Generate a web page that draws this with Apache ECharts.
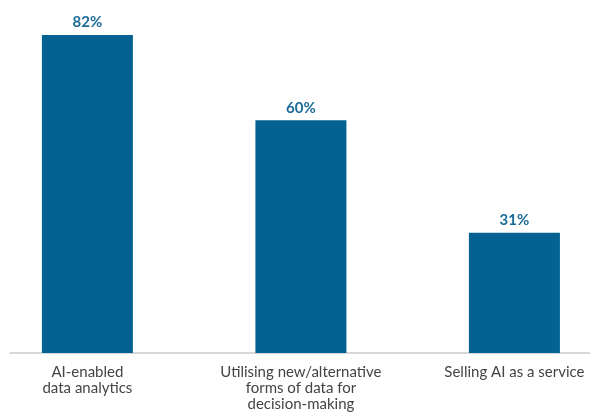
<!DOCTYPE html>
<html><head><meta charset="utf-8">
<script src="https://cdn.jsdelivr.net/npm/echarts@6/dist/echarts.min.js"></script>
<style>html,body{margin:0;padding:0;background:#fff}#c{width:590px;height:412px}</style>
</head><body><div id="c"></div>
<script>
const categories = ["AI-enabled\ndata analytics", "Utilising new/alternative\nforms of data for\ndecision-making", "Selling AI as a service"];
const values = [82, 60, 31];
const chart = echarts.init(document.getElementById('c'));
chart.setOption({
  animation: false,
  grid: {left: 10, right: 0, top: 4, bottom: 59},
  xAxis: {
    type: 'value', min: -0.3625, max: 2.354,
    splitLine: {show: false},
    axisTick: {show: false},
    axisLine: {show: true, lineStyle: {color: '#cccccc', width: 1.5}},
    axisLabel: {customValues: [0, 1, 2], formatter: v => categories[Math.round(v)] || '',
      margin: 11, color: '#444', fontFamily: 'Lato', fontSize: 15, lineHeight: 16, hideOverlap: false,
      showMinLabel: true, showMaxLabel: true}
  },
  yAxis: {type: 'value', min: 0, max: 90, show: false},
  series: [{
    type: 'bar', data: values.map((v, i) => [i, v]), barWidth: 91,
    itemStyle: {color: '#036291'},
    label: {show: true, position: 'top', distance: 5, formatter: p => p.value[1] + '%', color: '#1a6b97', fontFamily: 'Lato', fontWeight: 'bold', fontSize: 15}
  }]
});
</script></body></html>
